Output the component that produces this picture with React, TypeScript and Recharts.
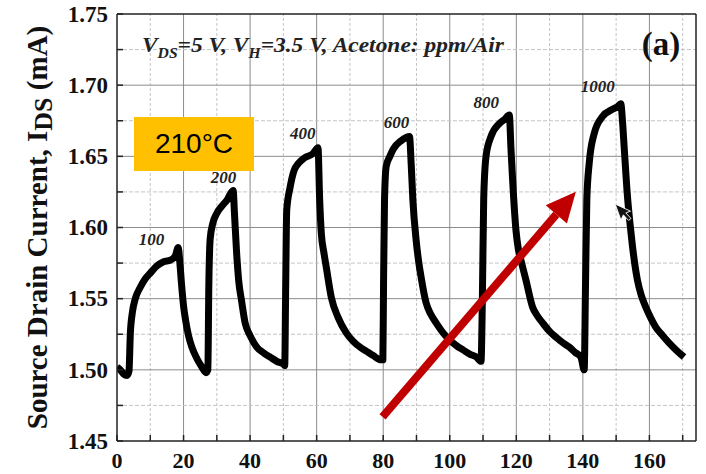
import { LineChart, Line, XAxis, YAxis, ReferenceLine, ReferenceDot } from "recharts";

// Time (s) and drain current (mA)
const times = [
  0, 1, 2, 3, 3.6, 4.0, 4.6, 5.5, 7, 8.5, 10, 12, 14, 16, 17.5, 18.4,
  18.9, 19.4, 20.0, 20.6, 21.5, 22.5, 24, 25.5, 26.8,
  27.3, 27.6, 28.0, 28.8, 30, 31.5, 33, 34.9,
  35.3, 35.9, 36.6, 37.4, 38.5, 40, 42, 44, 46, 48, 50, 50.4,
  50.7, 51.0, 52.0, 53.2, 54.5, 56.4, 58.9, 60.4,
  60.9, 61.4, 62.2, 62.9, 64.4, 66.4, 68.9, 71, 73, 75, 77, 79.3, 79.9,
  80.1, 80.4, 80.9, 82, 83, 85.4, 87.9,
  88.4, 88.9, 89.9, 90.6, 91.4, 92.9, 94.3, 95.9, 98, 100, 102, 104, 106, 108, 109.4,
  109.8, 110.2, 110.9, 112.4, 114.9, 116.5, 117.9,
  118.4, 118.9, 119.9, 120.6, 121.4, 122.9, 124.9, 126.3, 127.9, 130, 131.9, 134, 135.9, 137.8, 139.4, 140.4,
  140.8, 141.2, 141.9, 143.4, 145.9, 148.9, 150.5, 151.4,
  151.9, 152.4, 153.4, 154.2, 154.9, 156.4, 157.6, 158.9, 160.5, 161.9, 164, 165.9, 168, 170.4,
];
const currents = [
  1.502, 1.5, 1.497, 1.496, 1.499, 1.525, 1.54, 1.55, 1.558, 1.564, 1.568, 1.573, 1.576, 1.577, 1.58, 1.586,
  1.575, 1.56, 1.545, 1.535, 1.524, 1.516, 1.508, 1.502, 1.498,
  1.5, 1.56, 1.592, 1.603, 1.61, 1.615, 1.619, 1.626,
  1.61, 1.584, 1.562, 1.549, 1.533, 1.524, 1.516, 1.512, 1.509, 1.506, 1.504, 1.503,
  1.56, 1.612, 1.628, 1.64, 1.645, 1.649, 1.652, 1.656,
  1.62, 1.596, 1.582, 1.572, 1.551, 1.537, 1.526, 1.52, 1.516, 1.513, 1.51, 1.507, 1.507,
  1.56, 1.62, 1.643, 1.65, 1.655, 1.661, 1.664,
  1.645, 1.62, 1.591, 1.577, 1.565, 1.547, 1.539, 1.533, 1.526, 1.521, 1.517, 1.514, 1.511, 1.509, 1.506,
  1.55, 1.62, 1.65, 1.664, 1.673, 1.676, 1.679,
  1.655, 1.633, 1.598, 1.585, 1.577, 1.563, 1.544, 1.538, 1.533, 1.527, 1.523, 1.519, 1.516, 1.512, 1.509, 1.5,
  1.56, 1.62, 1.645, 1.666, 1.678, 1.683, 1.685, 1.687,
  1.675, 1.657, 1.622, 1.602, 1.587, 1.563, 1.552, 1.544, 1.536, 1.53, 1.524, 1.519, 1.514, 1.509,
];

const xTicks = [0, 10, 20, 30, 40, 50, 60, 70, 80, 90, 100, 110, 120, 130, 140, 150, 160, 170];
const yTicks = [1.45, 1.475, 1.5, 1.525, 1.55, 1.575, 1.6, 1.625, 1.65, 1.675, 1.7, 1.725, 1.75];

// acetone concentrations (ppm) and where each label sits over its peak
const ppmLabels = ["100", "200", "400", "600", "800", "1000"];
const ppmLabelX = [10.4, 32, 55.8, 84, 111, 144.5];
const ppmLabelY = [1.588, 1.631, 1.662, 1.67, 1.684, 1.695];

const data = times.map((t, i) => ({ t, current: currents[i] }));

const serif = "'Liberation Serif', 'Times New Roman', Times, serif";
const serifStyle = { fontFamily: serif };

const isMajorY = (v: number) => Math.round(v * 1000) % 50 === 0;

const BottomTick = ({ x, y, payload }: any) => (
  <g>
    <line x1={x} y1={y} x2={x} y2={y - 6} stroke="#222" strokeWidth={1.5} />
    {payload.value % 20 === 0 && (
      <text x={x} y={y + 27} textAnchor="middle" style={serifStyle} fontWeight="bold" fontSize={22} fill="#111">
        {payload.value}
      </text>
    )}
  </g>
);

const LeftTick = ({ x, y, payload }: any) => (
  <g>
    <line x1={x} y1={y} x2={x + 6} y2={y} stroke="#222" strokeWidth={1.5} />
    {isMajorY(payload.value) && (
      <text x={x - 9} y={y} dy="0.34em" textAnchor="end" style={serifStyle} fontWeight="bold" fontSize={23} fill="#111">
        {payload.value.toFixed(2)}
      </text>
    )}
  </g>
);

const YTitle = ({ viewBox }: any) => {
  const cy = viewBox.y + viewBox.height / 2;
  return (
    <text
      transform={`translate(47, ${cy}) rotate(-90)`}
      textAnchor="middle"
      style={serifStyle}
      fontWeight="bold"
      fontSize={29}
      fill="#111"
    >
      Source Drain Current, I<tspan dy={5} fontSize={26}>DS</tspan>
      <tspan dy={-5}> (mA)</tspan>
    </text>
  );
};

const Arrow = (props: any) => {
  const { x1, y1, x2, y2 } = props;
  const a = Math.atan2(y2 - y1, x2 - x1);
  const head = 30;
  const half = 14;
  const bx = x2 - head * Math.cos(a);
  const by = y2 - head * Math.sin(a);
  const px = -Math.sin(a) * half;
  const py = Math.cos(a) * half;
  return (
    <g>
      <line x1={x1} y1={y1} x2={bx} y2={by} stroke="#C00000" strokeWidth={8} />
      <polygon points={`${x2},${y2} ${bx + px},${by + py} ${bx - px},${by - py}`} fill="#C00000" />
    </g>
  );
};

const Pointer = (props: any) => {
  const { cx, cy } = props;
  return (
    <polygon
      transform={`translate(${cx}, ${cy}) rotate(-20)`}
      points="0,0 0,17 4,13 7,20 10,19 7,12 12,12"
      fill="#111"
      stroke="#fff"
      strokeWidth={0.8}
    />
  );
};

export default function App() {
  return (
    <div style={{ position: "absolute", left: 0, top: 0, width: 706, height: 474, background: "#fff" }}>
      <LineChart width={706} height={474} data={data} margin={{ top: 14, right: 10, bottom: 0, left: 0 }}>
        <XAxis
          dataKey="t"
          type="number"
          domain={[0, 174]}
          ticks={xTicks}
          interval={0}
          height={33}
          tickSize={0}
          tickMargin={0}
          tickLine={false}
          tick={<BottomTick />}
          axisLine={{ stroke: "#222", strokeWidth: 1.5 }}
          allowDataOverflow
        />
        <XAxis
          xAxisId="top"
          orientation="top"
          mirror
          type="number"
          domain={[0, 174]}
          ticks={xTicks}
          interval={0}
          tick={false}
          tickSize={6}
          tickLine={{ stroke: "#222", strokeWidth: 1.5 }}
          axisLine={{ stroke: "#222", strokeWidth: 1.5 }}
          allowDataOverflow
        />
        <YAxis
          type="number"
          domain={[1.45, 1.75]}
          ticks={yTicks}
          interval={0}
          width={117}
          tickSize={0}
          tickMargin={0}
          tickLine={false}
          tick={<LeftTick />}
          axisLine={{ stroke: "#222", strokeWidth: 1.5 }}
          label={{ content: <YTitle /> }}
          allowDataOverflow
        />
        <YAxis
          yAxisId="right"
          orientation="right"
          mirror
          type="number"
          domain={[1.45, 1.75]}
          ticks={yTicks}
          interval={0}
          tick={false}
          tickSize={6}
          tickLine={{ stroke: "#222", strokeWidth: 1.5 }}
          axisLine={{ stroke: "#222", strokeWidth: 1.5 }}
          allowDataOverflow
        />

        {xTicks
          .filter((v) => v > 0)
          .map((v) => (
            <ReferenceLine
              key={`gx${v}`}
              x={v}
              stroke={v % 20 === 0 ? "#8c8c8c" : "#c4c4c4"}
              strokeDasharray={v % 20 === 0 ? undefined : "3 2"}
              strokeWidth={1}
            />
          ))}
        {yTicks
          .filter((v) => v > 1.45 && v < 1.75)
          .map((v) => (
            <ReferenceLine
              key={`gy${v}`}
              y={v}
              stroke={isMajorY(v) ? "#8c8c8c" : "#c4c4c4"}
              strokeDasharray={isMajorY(v) ? undefined : "4 2"}
              strokeWidth={1}
            />
          ))}

        <Line
          dataKey="current"
          type="monotone"
          stroke="#000"
          strokeWidth={7}
          strokeLinejoin="round"
          dot={false}
          isAnimationActive={false}
        />

        {ppmLabels.map((s, i) => (
          <ReferenceDot
            key={s}
            x={ppmLabelX[i]}
            y={ppmLabelY[i]}
            r={0}
            shape={(p: any) => (
              <text x={p.cx} y={p.cy} textAnchor="middle" style={serifStyle} fontStyle="italic" fontWeight="bold" fontSize={17} fill="#222">
                {s}
              </text>
            )}
          />
        ))}

        <ReferenceDot
          x={7.5}
          y={1.7233}
          r={0}
          shape={(p: any) => (
            <text x={p.cx} y={p.cy} style={serifStyle} fontStyle="italic" fontWeight="bold" fontSize={21} fill="#222" textLength={362} lengthAdjust="spacingAndGlyphs">
              V<tspan dy={6} fontSize={14}>DS</tspan>
              <tspan dy={-6}>=5 V, V</tspan>
              <tspan dy={6} fontSize={14}>H</tspan>
              <tspan dy={-6}>=3.5 V, Acetone:  ppm/Air</tspan>
            </text>
          )}
        />
        <ReferenceDot
          x={163.5}
          y={1.7212}
          r={0}
          shape={(p: any) => (
            <text x={p.cx} y={p.cy} textAnchor="middle" style={serifStyle} fontWeight="bold" fontSize={33} fill="#111">
              (a)
            </text>
          )}
        />

        <ReferenceLine
          segment={[
            { x: 79.8, y: 1.4669 },
            { x: 137.9, y: 1.6252 },
          ]}
          shape={<Arrow />}
        />
        <ReferenceDot x={149.7} y={1.6165} r={0} shape={(p: any) => <Pointer {...p} />} />
      </LineChart>
      <div
        style={{
          position: "absolute",
          left: 134,
          top: 117,
          width: 120,
          height: 54,
          background: "#FFC000",
          fontFamily: "Arial, 'Liberation Sans', sans-serif",
          fontSize: 28,
          lineHeight: "54px",
          textAlign: "center",
          color: "#000",
        }}
      >
        210°C
      </div>
    </div>
  );
}
